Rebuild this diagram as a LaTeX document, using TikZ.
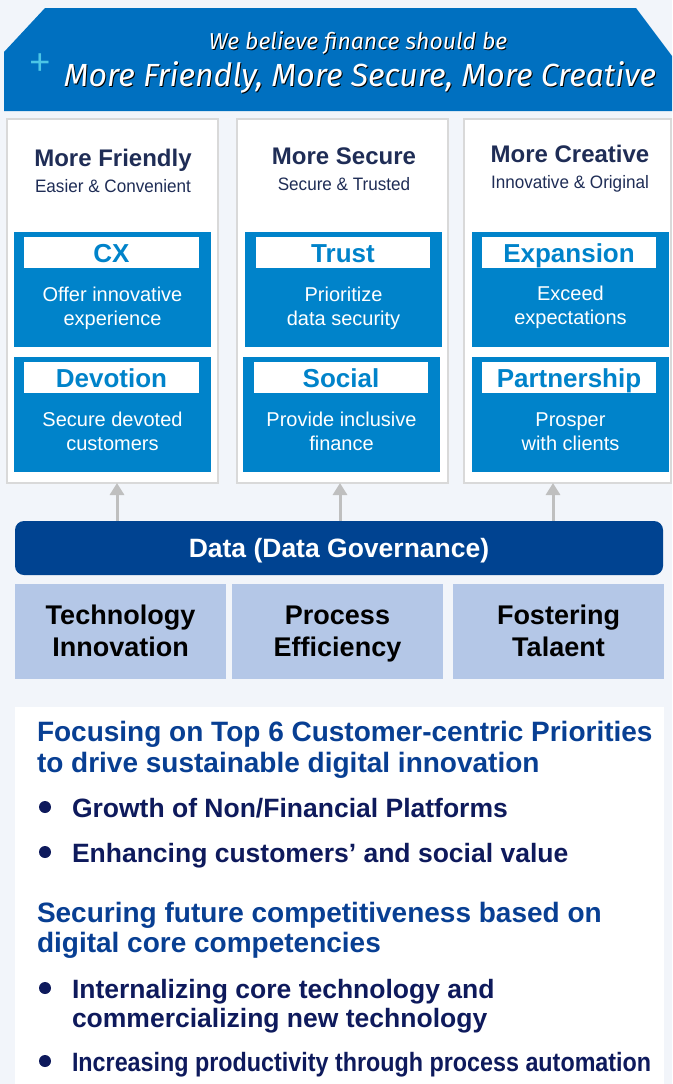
\documentclass[tikz,border=0pt]{standalone}
\usepackage{fontspec}
\setmainfont{Liberation Sans}
\newfontfamily\condfont{Liberation Sans}[FakeStretch=0.95]
\newfontfamily\narrowfont{Liberation Sans}[FakeStretch=0.88]
\newfontfamily\handfont{Fira Sans}
\usetikzlibrary{arrows.meta}
\definecolor{bgcol}{HTML}{F2F5FA}
\definecolor{bannerblue}{HTML}{0070C0}
\definecolor{panelborder}{HTML}{D9D9D9}
\definecolor{boxblue}{HTML}{0083CA}
\definecolor{titlenavy}{HTML}{1F2D56}
\definecolor{databar}{HTML}{004391}
\definecolor{techfill}{HTML}{B4C7E7}
\definecolor{headblue}{HTML}{083F93}
\definecolor{bulletnavy}{HTML}{0E1A5C}
\definecolor{arrowgray}{HTML}{BFBFBF}
\definecolor{pluscyan}{HTML}{4CC6E6}
\tikzset{
  panel/.style={draw=panelborder, line width=1.2pt, fill=white, anchor=north west, minimum height=364pt},
  bluebox/.style={fill=boxblue, anchor=north west, minimum width=197pt, minimum height=115pt},
  labelbar/.style={fill=white, text=boxblue, anchor=north west, minimum width=175pt, minimum height=31pt,
    text height=19pt, text depth=0pt, font=\bfseries\fontsize{26}{30}\selectfont},
  bodytext/.style={text=white, align=center, font=\fontsize{20}{24}\selectfont},
  coltitle/.style={text=titlenavy, anchor=base, font=\bfseries\fontsize{24}{28}\selectfont},
  colsub/.style={text=titlenavy, anchor=base, font=\condfont\fontsize{18}{22}\selectfont},
  techbox/.style={fill=techfill, anchor=north west, minimum width=211pt, minimum height=95pt, align=center, font=\bfseries\fontsize{27}{32}\selectfont},
  headline/.style={text=headblue, anchor=base west, font=\bfseries\fontsize{28}{31}\selectfont},
  bullettext/.style={text=bulletnavy, anchor=base west, font=\bfseries\fontsize{26.5}{30}\selectfont},
  bulletdot/.style={circle, fill=bulletnavy, minimum size=12pt},
  uparrow/.style={draw=arrowgray, line width=3pt, -{Triangle[width=14pt,length=12pt]}},
  bantext/.style={text=white, font=\handfont\itshape\fontsize{#1}{#1}\selectfont},
  banshadow/.style={text=black, font=\handfont\itshape\fontsize{#1}{#1}\selectfont},
}
\newcommand{\toprule}[1]{\rule{0pt}{#1}}
\begin{document}
\begin{tikzpicture}[x=1pt, y=-1pt, every node/.style={inner sep=0pt, outer sep=0pt}]
\fill[bgcol] (0,0) rectangle (672,1084);
\useasboundingbox (0,0) rectangle (672,1084);

% banner
\fill[bannerblue] (4,111) -- (4,52) -- (45,8) -- (636,8) -- (672,56) -- (672,111) -- cycle;
\node[banshadow=23] (ban1s) at (359,44) {We believe finance should be};
\node[bantext=23] (ban1) at (358,43) {We believe finance should be};
\node[banshadow=32] (ban2s) at (361,78) {More Friendly, More Secure, More Creative};
\node[bantext=32] (ban2) at (360,77) {More Friendly, More Secure, More Creative};
\node[text=pluscyan, font=\fontsize{36}{36}\selectfont] (plus) at (40,64) {+};

% column panels
\node[panel, minimum width=211pt] (p1) at (7,119) {};
\node[panel, minimum width=211pt] (p2) at (237,119) {};
\node[panel, minimum width=207pt] (p3) at (464,119) {};

\node[coltitle] (t1) at (113,166) {More Friendly};
\node[colsub] (s1) at (113,192) {Easier \& Convenient};
\node[coltitle] (t2) at (344,164) {More Secure};
\node[colsub] (s2) at (344,190) {Secure \& Trusted};
\node[coltitle] (t3) at (570,162) {More Creative};
\node[colsub] (s3) at (570,188) {Innovative \& Original};

% blue boxes
\node[bluebox] (b11) at (14,232) {};
\node[bluebox] (b12) at (14,357) {};
\node[bluebox] (b21) at (245,232) {};
\node[bluebox] (b22) at (243,357) {};
\node[bluebox] (b31) at (472,232) {};
\node[bluebox] (b32) at (472,357) {};

\node[labelbar] (l11) at (24,237) {CX};
\node[labelbar] (l12) at (24,362) {Devotion};
\node[labelbar, minimum width=174pt] (l21) at (256,237) {Trust};
\node[labelbar, minimum width=174pt] (l22) at (254,362) {Social};
\node[labelbar, minimum width=174pt] (l31) at (482,237) {Expansion};
\node[labelbar, minimum width=174pt] (l32) at (482,362) {Partnership};

\node[bodytext] (d11) at (112.5,306) {\toprule{22.8pt}Offer innovative\\experience\strut};
\node[bodytext] (d12) at (112.5,431) {\toprule{22.8pt}Secure devoted\\customers\strut};
\node[bodytext] (d21) at (343.5,306) {\toprule{22.8pt}Prioritize\\data security\strut};
\node[bodytext] (d22) at (341.5,431) {\toprule{22.8pt}Provide inclusive\\finance\strut};
\node[bodytext] (d31) at (570.5,305) {\toprule{22.8pt}Exceed\\expectations\strut};
\node[bodytext] (d32) at (570.5,431) {\toprule{22.8pt}Prosper\\with clients\strut};

% data bar
\node[fill=databar, rounded corners=9pt, anchor=north west, minimum width=648pt, minimum height=54pt,
      text height=19pt, text depth=0pt,
      text=white, font=\bfseries\fontsize{26.5}{28}\selectfont] (data) at (15,521) {Data (Data Governance)};

\draw[uparrow] ([xshift=102pt]data.north west) -- ([xshift=4.5pt]p1.south);
\draw[uparrow] ([xshift=325pt]data.north west) -- ([xshift=-2.5pt]p2.south);
\draw[uparrow] ([xshift=538pt]data.north west) -- ([xshift=-14.5pt]p3.south);

% foundation boxes
\node[techbox] (k1) at (15,584) {\toprule{28.4pt}Technology\\Innovation\strut};
\node[techbox] (k2) at (232,584) {\toprule{28.4pt}Process\\Efficiency\strut};
\node[techbox] (k3) at (453,584) {\toprule{28.4pt}Fostering\\Talaent\strut};

% bottom panel
\node[fill=white, anchor=north west, minimum width=649pt, minimum height=377pt] (bottom) at (15,707) {};

\node[headline] (h1a) at (37,741) {Focusing on Top 6 Customer-centric Priorities};
\node[headline] (h1b) at (37,772) {to drive sustainable digital innovation};
\node[bulletdot] (c1) at (45,807) {};
\node[bullettext] (g1) at (72,817) {Growth of Non/Financial Platforms};
\node[bulletdot] (c2) at (45,852) {};
\node[bullettext] (g2) at (72,862) {Enhancing customers’ and social value};

\node[headline] (h2a) at (37,922) {Securing future competitiveness based on};
\node[headline] (h2b) at (37,952) {digital core competencies};
\node[bulletdot] (c3) at (45,988) {};
\node[bullettext] (g3) at (72,998) {Internalizing core technology and};
\node[bullettext] (g4) at (72,1027) {commercializing new technology};
\node[bulletdot] (c4) at (45,1061) {};
\node[bullettext] (g5) at (72,1071) {\narrowfont\bfseries Increasing productivity through process automation};
\end{tikzpicture}
\end{document}
